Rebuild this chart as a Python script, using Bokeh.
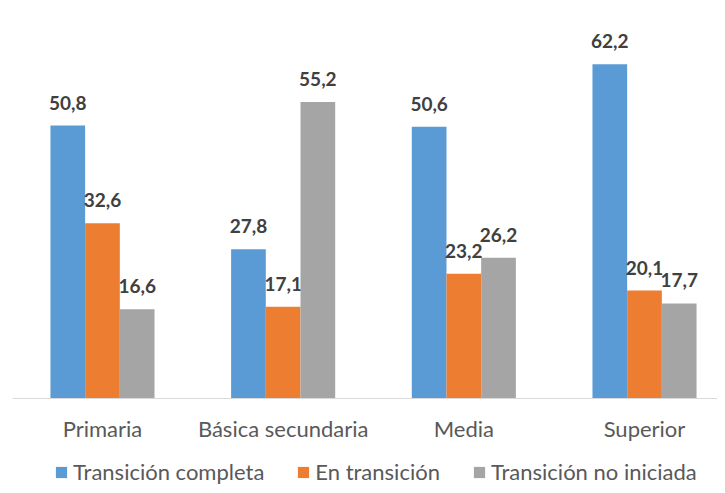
from bokeh.plotting import figure
from bokeh.models import ColumnDataSource, Legend, LegendItem, FixedTicker, Range1d
from bokeh.core.properties import value
from bokeh.embed import file_html
from bokeh.resources import INLINE

categories = ["Primaria", "Básica secundaria", "Media", "Superior"]
series_names = ["Transición completa", "En transición", "Transición no iniciada"]
completa = [50.8, 27.8, 50.6, 62.2]
en_transicion = [32.6, 17.1, 23.2, 20.1]
no_iniciada = [16.6, 55.2, 26.2, 17.7]
colors = ["#5B9BD5", "#ED7D31", "#A5A5A5"]

series = [completa, en_transicion, no_iniciada]
offsets = [-0.192, 0.0, 0.192]
bar_w = 0.192

p = figure(width=717, height=485, output_backend="svg", toolbar_location=None,
           x_range=Range1d(-0.498, 3.404), y_range=Range1d(-16.2, 72.6))
p.min_border_left = 12
p.min_border_right = 0
p.min_border_top = 8
p.min_border_bottom = 0
p.outline_line_color = None
p.background_fill_color = "white"
p.border_fill_color = "white"
p.xgrid.visible = False
p.ygrid.visible = False
p.yaxis.visible = False

items = []
for vals, off, col, name in zip(series, offsets, colors, series_names):
    xs = [i + off for i in range(len(categories))]
    src = ColumnDataSource(dict(x=xs, top=vals,
                                lab=[f"{v:.1f}".replace(".", ",") for v in vals]))
    r = p.vbar(x="x", top="top", width=bar_w, source=src, fill_color=col, line_color=None)
    p.text(x="x", y="top", text="lab", source=src, text_align="center",
           text_baseline="alphabetic", y_offset=-23, text_font=value("Lato"),
           text_font_style="bold", text_font_size="19px", text_color="#404040")
    items.append(LegendItem(label=name, renderers=[r]))

ax = p.xaxis[0]
ax.fixed_location = 0
ax.ticker = FixedTicker(ticks=list(range(len(categories))))
ax.major_label_overrides = {i: c for i, c in enumerate(categories)}
ax.axis_line_color = "#D9D9D9"
ax.axis_line_width = 1
ax.major_tick_line_color = None
ax.minor_tick_line_color = None
ax.major_tick_out = 0
ax.major_tick_in = 0
ax.major_label_standoff = 17
ax.major_label_text_font = "Lato"
ax.major_label_text_font_size = "22px"
ax.major_label_text_color = "#595959"

legend = Legend(items=items, orientation="horizontal", location=(42, 0),
                glyph_width=14, glyph_height=14, label_standoff=5, spacing=32,
                padding=0, margin=0, border_line_color=None, background_fill_alpha=0,
                label_text_font="Lato", label_text_font_size="22px",
                label_text_color="#595959")
p.add_layout(legend)

open("out.html", "w").write(file_html(p, INLINE))
